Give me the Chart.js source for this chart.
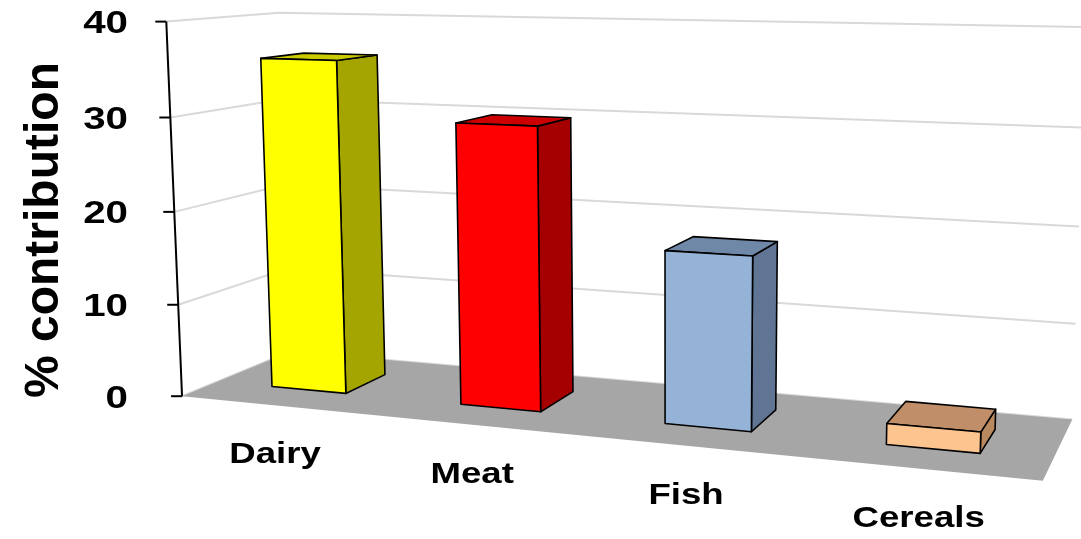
<!DOCTYPE html>
<html><head><meta charset="utf-8">
<script src="https://cdn.jsdelivr.net/npm/chart.js@4.4.1/dist/chart.umd.min.js"></script>
<style>html,body{margin:0;padding:0;background:#fff;overflow:hidden}canvas{display:block}</style>
</head><body>
<canvas id="c" width="1081" height="539"></canvas>
<script>
const categories = ['Dairy', 'Meat', 'Fish', 'Cereals'];
const values = [35.9, 29.8, 17.8, 2.1];
const yTicks = [0, 10, 20, 30, 40];
const frontColors = ['#FFFF00', '#FF0000', '#95B3D7', '#FCC48E'];
const topColors = ['#CACA00', '#CC0000', '#7088A8', '#C08F6A'];
const sideColors = ['#A5A500', '#A50000', '#5F7593', '#B8895F'];

const FONT = '"Liberation Sans", Arial, sans-serif';
// perspective camera matrix (world: X = category units, Y = value units, Z = depth 0..1)
const CAM = [175.443, -0.524264, 139.375, 182.055, 2.83135, -9.38174, -7.27577, 396.201, -0.0381135, -0.000783052, 0.106704];
function proj(X, Y, Z) {
  const p = CAM, w = p[8] * X + p[9] * Y + p[10] * Z + 1;
  return [(p[0] * X + p[1] * Y + p[2] * Z + p[3]) / w, (p[4] * X + p[5] * Y + p[6] * Z + p[7]) / w];
}
const Z0 = 0.31, Z1 = 0.71;

function poly(ctx, pts, fill, stroke) {
  ctx.beginPath(); ctx.moveTo(pts[0][0], pts[0][1]);
  for (let i = 1; i < pts.length; i++) ctx.lineTo(pts[i][0], pts[i][1]);
  ctx.closePath(); ctx.fillStyle = fill; ctx.fill(); if (stroke) ctx.stroke();
}
function sText(ctx, txt, x, y, align, sx) {
  ctx.save(); ctx.translate(x, y); ctx.scale(sx, 1); ctx.textAlign = align; ctx.fillText(txt, 0, 0); ctx.restore();
}

const plugin3d = {
  id: 'fake3d',
  beforeDatasetsDraw(chart) {
    const ctx = chart.ctx, xs = chart.scales.x, ys = chart.scales.y;
    const n = categories.length;
    const toX = px => (px - xs.left) / (xs.right - xs.left) * n;
    const toY = py => ys.getValueForPixel(py);
    ctx.save();
    ctx.lineJoin = 'round';
    // gridlines on side and back walls
    ctx.lineWidth = 2; ctx.strokeStyle = '#D9D9D9';
    yTicks.forEach(t => {
      const Y = toY(ys.getPixelForValue(t));
      const a = proj(0, Y, 0), b = proj(0, Y, 1), c = proj(n, Y, 1);
      ctx.beginPath(); ctx.moveTo(a[0], a[1]); ctx.lineTo(b[0], b[1]); ctx.lineTo(c[0], c[1]); ctx.stroke();
    });
    // floor
    poly(ctx, [proj(0, 0, 0), proj(0, 0, 1), proj(n, 0, 1), proj(n, 0, 0)], '#A6A6A6', false);
    // value axis
    ctx.strokeStyle = '#000'; ctx.lineWidth = 2;
    const ab = proj(0, toY(ys.getPixelForValue(yTicks[0])), 0), at = proj(0, toY(ys.getPixelForValue(yTicks[yTicks.length - 1])), 0);
    ctx.beginPath(); ctx.moveTo(ab[0], ab[1]); ctx.lineTo(at[0], at[1]); ctx.stroke();
    ctx.fillStyle = '#000'; ctx.font = 'bold 31px ' + FONT; ctx.textBaseline = 'middle';
    yTicks.forEach(t => {
      const q = proj(0, toY(ys.getPixelForValue(t)), 0);
      ctx.beginPath(); ctx.moveTo(q[0] - 11, q[1]); ctx.lineTo(q[0], q[1]); ctx.stroke();
      sText(ctx, String(t), 128, q[1] + 3, 'right', 1.3);
    });
    // bars
    ctx.lineWidth = 1.6; ctx.strokeStyle = '#000';
    const meta = chart.getDatasetMeta(0);
    meta.data.forEach((bar, i) => {
      const g = bar.getProps(['x', 'y', 'base', 'width'], true);
      const x0 = toX(g.x - g.width / 2), x1 = toX(g.x + g.width / 2);
      const y0 = toY(g.base), y1 = toY(g.y);
      poly(ctx, [proj(x1, y0, Z0), proj(x1, y0, Z1), proj(x1, y1, Z1), proj(x1, y1, Z0)], sideColors[i], true);
      poly(ctx, [proj(x0, y1, Z0), proj(x1, y1, Z0), proj(x1, y1, Z1), proj(x0, y1, Z1)], topColors[i], true);
      poly(ctx, [proj(x0, y0, Z0), proj(x1, y0, Z0), proj(x1, y1, Z0), proj(x0, y1, Z0)], frontColors[i], true);
    });
    // category labels
    ctx.fillStyle = '#000'; ctx.font = 'bold 30px ' + FONT; ctx.textBaseline = 'alphabetic';
    categories.forEach((c, i) => {
      const q = proj(toX(xs.getPixelForValue(i)), 0, 0);
      sText(ctx, c, q[0], q[1] + 58, 'center', 1.22);
    });
    // axis title
    ctx.save(); ctx.translate(58, 230); ctx.rotate(-Math.PI / 2);
    ctx.font = 'bold 48px ' + FONT; ctx.textAlign = 'center'; ctx.fillText('% contribution', 0, 0);
    ctx.restore();
    ctx.restore();
    return false;
  }
};

new Chart(document.getElementById('c'), {
  type: 'bar',
  data: { labels: categories, datasets: [{ data: values, backgroundColor: frontColors, categoryPercentage: 1, barPercentage: 0.4 }] },
  options: {
    responsive: false, animation: false, events: [],
    layout: { padding: { left: 183, right: 38, top: 22, bottom: 144 } },
    plugins: { legend: { display: false }, tooltip: { enabled: false } },
    scales: { x: { display: false }, y: { display: false, min: 0, max: 40 } }
  },
  plugins: [plugin3d]
});
</script>
</body></html>
